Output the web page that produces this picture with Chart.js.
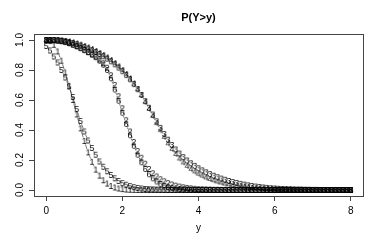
<!DOCTYPE html>
<html><head><meta charset="utf-8">
<script src="https://cdn.jsdelivr.net/npm/chart.js@4/dist/chart.umd.min.js"></script>
<style>html,body{margin:0;padding:0;background:#fff;}#wrap{width:382px;height:240px;}</style>
</head><body><div id="wrap"><canvas id="c" width="382" height="240"></canvas></div>
<script>
const yGrid = [
0,0.1,0.2,0.3,0.4,0.5,0.6,0.7,0.8,0.9,
1,1.1,1.2,1.3,1.4,1.5,1.6,1.7,1.8,1.9,
2,2.1,2.2,2.3,2.4,2.5,2.6,2.7,2.8,2.9,
3,3.1,3.2,3.3,3.4,3.5,3.6,3.7,3.8,3.9,
4,4.1,4.2,4.3,4.4,4.5,4.6,4.7,4.8,4.9,
5,5.1,5.2,5.3,5.4,5.5,5.6,5.7,5.8,5.9,
6,6.1,6.2,6.3,6.4,6.5,6.6,6.7,6.8,6.9,
7,7.1,7.2,7.3,7.4,7.5,7.6,7.7,7.8,7.9,
8];
const s1 = [
1,0.993,0.968,0.924,0.862,0.784,0.695,0.600,0.504,0.411,
0.327,0.251,0.188,0.136,0.096,0.065,0.043,0.027,0.017,0.010,
0.006,0.003,0.002,0.001,0,0,0,0,0,0,
0,0,0,0,0,0,0,0,0,0,
0,0,0,0,0,0,0,0,0,0,
0,0,0,0,0,0,0,0,0,0,
0,0,0,0,0,0,0,0,0,0,
0,0,0,0,0,0,0,0,0,0,
0];
const s2 = [
1,1,0.999,0.997,0.993,0.988,0.98,0.97,0.96,0.948,
0.935,0.92,0.905,0.89,0.87,0.845,0.815,0.765,0.70,0.625,
0.545,0.465,0.39,0.32,0.26,0.215,0.175,0.14,0.112,0.09,
0.072,0.058,0.046,0.037,0.029,0.023,0.018,0.014,0.011,0.008,
0.006,0.005,0.004,0.003,0.002,0.002,0.001,0.001,0,0,
0,0,0,0,0,0,0,0,0,0,
0,0,0,0,0,0,0,0,0,0,
0,0,0,0,0,0,0,0,0,0,
0];
const s3 = [
1,1,1,0.998,0.996,0.992,0.987,0.98,0.972,0.963,
0.953,0.943,0.932,0.92,0.907,0.892,0.876,0.858,0.838,0.816,
0.792,0.766,0.738,0.706,0.672,0.634,0.592,0.548,0.503,0.458,
0.414,0.373,0.335,0.30,0.27,0.243,0.219,0.197,0.178,0.161,
0.145,0.131,0.118,0.106,0.095,0.085,0.076,0.068,0.06,0.053,
0.047,0.041,0.036,0.031,0.027,0.023,0.02,0.017,0.014,0.012,
0.01,0.008,0.007,0.006,0.005,0.004,0.003,0.003,0.002,0.002,
0.001,0.001,0,0,0,0,0,0,0,0,
0];
const s4 = [
1,1,1,0.999,0.997,0.994,0.99,0.984,0.977,0.969,
0.96,0.95,0.939,0.927,0.914,0.9,0.884,0.866,0.846,0.824,
0.8,0.773,0.743,0.71,0.673,0.633,0.589,0.542,0.494,0.446,
0.399,0.354,0.312,0.274,0.24,0.21,0.184,0.161,0.141,0.124,
0.109,0.096,0.084,0.074,0.065,0.057,0.05,0.043,0.038,0.033,
0.028,0.024,0.021,0.018,0.015,0.013,0.011,0.009,0.008,0.007,
0.006,0.005,0.004,0.003,0.003,0.002,0.002,0.001,0.001,0,
0,0,0,0,0,0,0,0,0,0,
0];
const s5 = [
0.96,0.93,0.89,0.85,0.80,0.75,0.69,0.62,0.54,0.46,
0.39,0.33,0.28,0.235,0.19,0.155,0.125,0.10,0.078,0.06,
0.046,0.035,0.026,0.019,0.014,0.01,0.007,0.005,0.004,0.003,
0.002,0.001,0,0,0,0,0,0,0,0,
0,0,0,0,0,0,0,0,0,0,
0,0,0,0,0,0,0,0,0,0,
0,0,0,0,0,0,0,0,0,0,
0,0,0,0,0,0,0,0,0,0,
0];
const s6 = [
1,1,0.999,0.996,0.992,0.986,0.978,0.968,0.957,0.945,
0.932,0.918,0.902,0.885,0.862,0.835,0.80,0.745,0.67,0.595,
0.515,0.44,0.365,0.295,0.235,0.185,0.14,0.105,0.078,0.057,
0.041,0.029,0.02,0.014,0.01,0.007,0.005,0.003,0.002,0.001,
0,0,0,0,0,0,0,0,0,0,
0,0,0,0,0,0,0,0,0,0,
0,0,0,0,0,0,0,0,0,0,
0,0,0,0,0,0,0,0,0,0,
0];
const seriesNames = ['1','2','3','4','5','6'];
const xTicks = [0,2,4,6,8];
const xTickLabels = ['0','2','4','6','8'];
const yTicks = [0,0.2,0.4,0.6,0.8,1.0];
const yTickLabels = ['0.0','0.2','0.4','0.6','0.8','1.0'];
const titleText = 'P(Y>y)';
const xTitleText = 'y';

const FAM = '"Liberation Sans", Arial, Helvetica, sans-serif';
const series = [s1,s2,s3,s4,s5,s6];
const ltys = [[],[3.2,3.2],[0.8,2.4],[0.8,2.4,3.2,2.4],[5.6,2.4],[1.6,1.6,4.8,1.6]];

function glyph(ch){
  const c = document.createElement('canvas');
  c.width = 8; c.height = 10;
  const g = c.getContext('2d');
  g.font = '9px ' + FAM;
  g.fillStyle = '#000';
  g.textAlign = 'center';
  g.textBaseline = 'middle';
  g.fillText(ch, 4, 5.5);
  return c;
}

const gapLines = {
  id: 'gapLines',
  beforeDatasetsDraw(chart){
    const ctx = chart.ctx, a = chart.chartArea;
    ctx.save();
    ctx.beginPath(); ctx.rect(a.left, a.top, a.right - a.left, a.bottom - a.top); ctx.clip();
    ctx.lineWidth = 0.6; ctx.strokeStyle = '#222';
    chart.data.datasets.forEach((ds, i) => {
      const pts = chart.getDatasetMeta(i).data;
      ctx.setLineDash(ltys[i]);
      for (let k = 0; k < pts.length - 1; k++) {
        const p = pts[k], q = pts[k+1];
        const dx = q.x - p.x, dy = q.y - p.y, d = Math.hypot(dx, dy), gap = 3.6;
        if (d > 2 * gap) {
          const ux = dx / d, uy = dy / d;
          ctx.beginPath();
          ctx.moveTo(p.x + ux * gap, p.y + uy * gap);
          ctx.lineTo(q.x - ux * gap, q.y - uy * gap);
          ctx.stroke();
        }
      }
    });
    ctx.restore();
  }
};
const boxPlugin = {
  id: 'boxPlugin',
  afterDatasetsDraw(chart){
    const ctx = chart.ctx, a = chart.chartArea;
    ctx.save();
    ctx.strokeStyle = '#444'; ctx.lineWidth = 1;
    ctx.strokeRect(Math.round(a.left) + 0.5, Math.round(a.top) + 0.5, Math.round(a.right - a.left), Math.round(a.bottom - a.top));
    ctx.restore();
  }
};

new Chart(document.getElementById('c'), {
  type: 'scatter',
  data: {
    datasets: series.map((arr, i) => ({
      label: seriesNames[i],
      data: yGrid.map((x, k) => ({x: x, y: arr[k]})),
      showLine: false,
      pointStyle: glyph(seriesNames[i]),
      pointRadius: 4, pointHoverRadius: 4,
      order: 6 - i
    }))
  },
  options: {
    responsive: false, animation: false, devicePixelRatio: 1,
    layout: {padding: {left: 0, right: 19, top: 0, bottom: 0}},
    plugins: {
      legend: {display: false}, tooltip: {enabled: false},
      title: {display: true, text: titleText, fullSize: false, color: '#000',
        font: {family: FAM, size: 11, weight: 'bold'}, padding: {top: 11, bottom: 9.8}}
    },
    scales: {
      x: {
        type: 'linear', min: -0.32, max: 8.32,
        afterBuildTicks: s => { s.ticks = xTicks.map(v => ({value: v})); },
        afterFit: s => { s.height = 44; },
        ticks: {color: '#000', font: {family: FAM, size: 10}, padding: 4, maxRotation: 0, autoSkip: false,
          callback: (v, i) => xTickLabels[i]},
        grid: {display: true, drawOnChartArea: false, drawTicks: true, tickLength: 5, color: '#444'},
        border: {display: false},
        title: {display: true, text: xTitleText, color: '#000', font: {family: FAM, size: 10}, padding: {top: 0, bottom: 6}}
      },
      y: {
        type: 'linear', min: -0.04, max: 1.04,
        afterBuildTicks: s => { s.ticks = yTicks.map(v => ({value: v})); },
        afterFit: s => { s.width = 34; },
        ticks: {color: '#000', font: {family: FAM, size: 10}, padding: 1.5, minRotation: 90, maxRotation: 90,
          crossAlign: 'center', autoSkip: false, callback: (v, i) => yTickLabels[i]},
        grid: {display: true, drawOnChartArea: false, drawTicks: true, tickLength: 5, color: '#444'},
        border: {display: false}
      }
    }
  },
  plugins: [gapLines, boxPlugin]
});
</script>
</body></html>
